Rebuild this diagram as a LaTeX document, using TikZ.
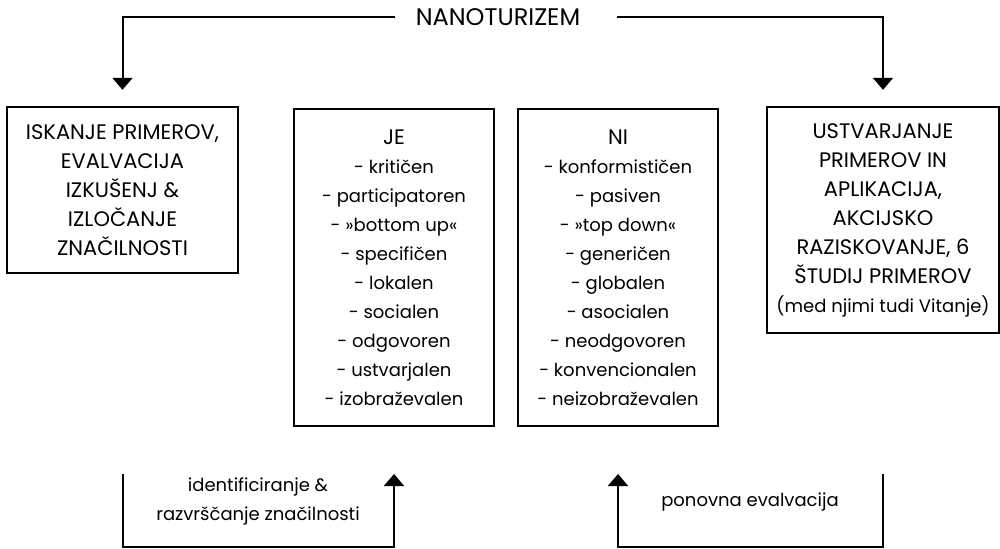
\documentclass[tikz,border=0pt]{standalone}
\usepackage{fontspec}
\setmainfont{Poppins}
\usetikzlibrary{arrows.meta}
\newcommand\velike{\fontsize{10.5}{14.5}\selectfont}
\tikzset{
  okvir/.style={draw, line width=1.2pt, align=center, inner sep=0pt, font=\fontsize{9}{14.5}\selectfont},
  napis/.style={align=center, inner sep=0pt, font=\fontsize{9}{14.5}\selectfont},
  puscica/.style={line width=1pt, -{Triangle[width=10pt,length=6pt]}}
}
\begin{document}
\begin{tikzpicture}[x=0.5pt,y=-0.5pt]
\useasboundingbox (0,0) rectangle (1000,548);
\node[napis, font=\fontsize{12}{14.5}\selectfont] (nano) at (498,17) {NANOTURIZEM};
\node[okvir, minimum width=115.5pt, minimum height=83pt, font=\velike] (iskanje) at (122.5,190)
  {ISKANJE PRIMEROV,\\EVALVACIJA\\IZKUŠENJ \&\\IZLOČANJE\\ZNAČILNOSTI};
\node[okvir, minimum width=100pt, minimum height=158.5pt] (je) at (394,267.5)
  {{\velike JE}\\- kritičen\\- participatoren\\- »bottom up«\\- specifičen\\- lokalen\\- socialen\\- odgovoren\\- ustvarjalen\\- izobraževalen};
\node[okvir, minimum width=100pt, minimum height=158.5pt] (ni) at (618,267.5)
  {{\velike NI}\\- konformističen\\- pasiven\\- »top down«\\- generičen\\- globalen\\- asocialen\\- neodgovoren\\- konvencionalen\\- neizobraževalen};
\node[okvir, minimum width=116pt, minimum height=113pt] (ustvarjanje) at (883,220)
  {{\velike USTVARJANJE}\\{\velike PRIMEROV IN}\\{\velike APLIKACIJA,}\\{\velike AKCIJSKO}\\{\velike RAZISKOVANJE, 6}\\{\velike ŠTUDIJ PRIMEROV}\\(med njimi tudi Vitanje)};
\draw[puscica, shorten <=10pt, shorten >=8pt] (nano.west) -| (iskanje.north);
\draw[puscica, shorten <=18pt, shorten >=8pt] (nano.east) -| (ustvarjanje.north);
\draw[puscica] (iskanje.south |- 0,474) -- (iskanje.south |- 0,547) -| (je.south |- 0,474);
\draw[puscica] (ustvarjanje.south |- 0,474) -- (ustvarjanje.south |- 0,547) -| (ni.south |- 0,474);
\node[napis] (ident) at (258,501) {identificiranje \&\\razvrščanje značilnosti};
\node[napis] (ponovna) at (750,502) {ponovna evalvacija};
\end{tikzpicture}
\end{document}
